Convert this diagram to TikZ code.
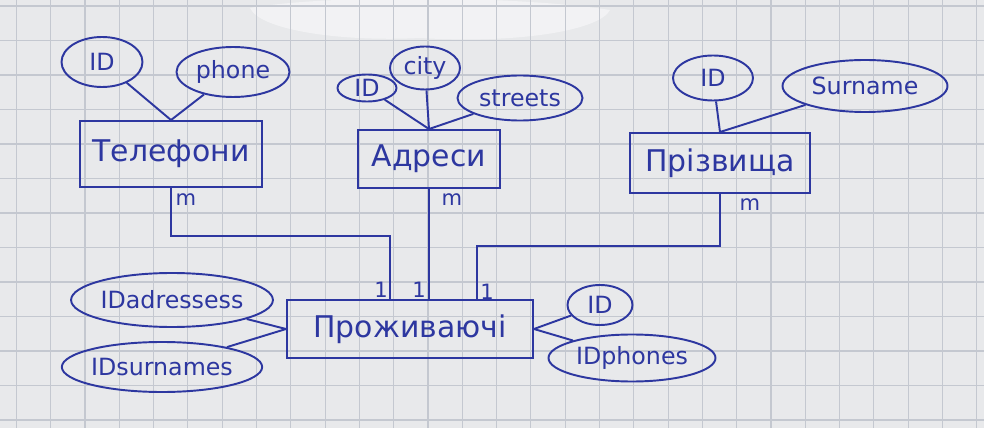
\documentclass[tikz,border=0pt]{standalone}
\usepackage{fontspec}
\setmainfont{DejaVu Sans}
\usetikzlibrary{shapes.geometric, positioning}
\definecolor{ink}{RGB}{45,55,160}
\definecolor{paper}{RGB}{232,233,235}
\definecolor{gridline}{RGB}{196,200,208}

\begin{document}
\begin{tikzpicture}[x=0.2mm, y=-0.2mm,
  entity/.style={draw=ink, line width=1.1pt, text=ink, inner sep=0pt, font=\fontsize{17}{19}\selectfont},
  attr/.style={draw=ink, ellipse, line width=1.1pt, text=ink, inner sep=0pt, font=\fontsize{13.5}{15}\selectfont},
  link/.style={draw=ink, line width=1.1pt},
  card/.style={text=ink, inner sep=0pt, font=\fontsize{12}{14}\selectfont}]
  % squared paper
  \useasboundingbox (0,0) rectangle (984,428);
  \fill[paper] (0,0) rectangle (984,428);
  \fill[white, opacity=0.45] (250,8) .. controls (330,-6) and (520,-4) .. (610,10)
    .. controls (600,30) and (520,44) .. (420,38) .. controls (340,42) and (260,30) .. (250,8);
  \foreach \gx in {0,...,28}
    \draw[gridline, line width=0.6pt] (16.4+34.3*\gx,0) -- (16.4+34.3*\gx,428);
  \foreach \gy in {0,...,12}
    \draw[gridline, line width=0.6pt] (0,6+34.5*\gy) -- (984,6+34.5*\gy);

  % entities
  \node[entity, minimum width=3.64cm, minimum height=1.32cm] (tel) at (171,154) {Телефони};
  \node[entity, minimum width=2.84cm, minimum height=1.16cm] (adr) at (429,159) {Адреси};
  \node[entity, minimum width=3.6cm, minimum height=1.2cm] (pri) at (720,163) {Прізвища};
  \node[entity, minimum width=4.92cm, minimum height=1.16cm] (pr) at (410,329) {Проживаючі};

  % attributes
  \node[attr, minimum width=1.62cm, minimum height=1cm] (telid) at (102,62) {ID};
  \node[attr, minimum width=2.26cm, minimum height=1cm] (phone) at (233,72) {phone};
  \node[attr, minimum width=1.18cm, minimum height=0.54cm] (adrid) at (367,88) {ID};
  \node[attr, minimum width=1.4cm, minimum height=0.86cm] (city) at (425,68) {city};
  \node[attr, minimum width=2.5cm, minimum height=0.9cm] (streets) at (520,98) {streets};
  \node[attr, minimum width=1.6cm, minimum height=0.9cm] (priid) at (713,78) {ID};
  \node[attr, minimum width=3.3cm, minimum height=1.04cm] (surname) at (865,86) {Surname};
  \node[attr, minimum width=3.78cm, minimum height=1.08cm] (adrs) at (172,300) {IDadressess};
  \node[attr, minimum width=3.42cm, minimum height=1cm] (surs) at (162,367) {IDsurnames};
  \node[attr, minimum width=1.3cm, minimum height=0.8cm] (prid) at (600,305) {ID};
  \node[attr, minimum width=3.34cm, minimum height=0.94cm] (phones) at (632,358) {IDphones};

  % attribute links
  \draw[link] (telid) -- (tel.north);
  \draw[link] (phone) -- (tel.north);
  \draw[link] (adrid) -- (adr.north);
  \draw[link] (city) -- (adr.north);
  \draw[link] (streets) -- (adr.north);
  \draw[link] (priid) -- (pri.north);
  \draw[link] (surname) -- (pri.north);
  \draw[link] (adrs) -- (pr.west);
  \draw[link] (surs) -- (pr.west);
  \draw[link] (prid) -- (pr.east);
  \draw[link] (phones) -- (pr.east);

  % relationships
  \draw[link] (tel.south) -- ++(0,48) -| ([xshift=-0.4cm]pr.north);
  \draw[link] (adr.south) -- (adr.south |- pr.north);
  \draw[link] (pri.south) -- ++(0,52) -| ([xshift=1.34cm]pr.north);

  % cardinalities
  \node[card] (m1) at (186,200) {m};
  \node[card] (m2) at (452,200) {m};
  \node[card] (m3) at (750,205) {m};
  \node[card] (o1) at (381,290) {1};
  \node[card] (o2) at (419,290) {1};
  \node[card] (o3) at (487,292) {1};
\end{tikzpicture}
\end{document}
